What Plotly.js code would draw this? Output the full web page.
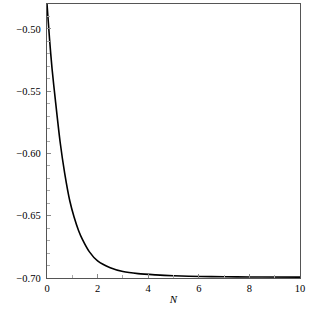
<!DOCTYPE html>
<html>
<head>
<meta charset="utf-8">
<script src="https://cdn.plot.ly/plotly-3.0.1.min.js"></script>
<style>html,body{margin:0;padding:0;background:#fff;}#chart{width:309px;height:309px;}</style>
</head>
<body>
<div id="chart"></div>
<script>
var N = [0, 0.1, 0.2, 0.33, 0.52, 0.7, 0.9, 1.07, 1.25, 1.4, 1.67, 2.0, 2.5, 3.0, 3.6, 4.3, 5.0, 5.6, 6.5, 7.5, 8.5, 10];
var values = [-0.480, -0.508, -0.532, -0.557, -0.591, -0.616, -0.638, -0.651, -0.662, -0.669, -0.6788, -0.6863, -0.6918, -0.6948, -0.6965, -0.6975, -0.6982, -0.6986, -0.6989, -0.6991, -0.6992, -0.6993];
var xTicks = [0, 2, 4, 6, 8, 10];
var yTicks = [-0.70, -0.65, -0.60, -0.55, -0.50];

var trace = {
  x: N, y: values, type: 'scatter', mode: 'lines',
  line: {color: '#000', width: 1.6, shape: 'spline', smoothing: 0.8},
  hoverinfo: 'skip'
};
var fontFam = '"Liberation Serif", "Times New Roman", serif';
var layout = {
  width: 309, height: 309,
  margin: {l: 47, r: 9, t: 4, b: 31},
  paper_bgcolor: '#fff', plot_bgcolor: '#fff',
  showlegend: false,
  font: {family: fontFam, size: 10, color: '#000'},
  xaxis: {
    range: [0, 10], tickvals: xTicks, ticktext: xTicks.map(String),
    ticks: 'inside', ticklen: 4, tickcolor: '#888', tickwidth: 1,
    minor: {ticks: 'inside', dtick: 1, ticklen: 3, tickcolor: '#aaa'},
    showgrid: false, zeroline: false,
    showline: true, mirror: true, linecolor: '#555', linewidth: 1.2,
    title: {text: '<i>N</i>', font: {family: fontFam, size: 11}, standoff: 2},
    tickfont: {family: fontFam, size: 10.5}
  },
  yaxis: {
    range: [-0.70, -0.48], tickvals: yTicks,
    ticktext: yTicks.map(function(v){return '\u2212' + Math.abs(v).toFixed(2);}),
    ticks: 'inside', ticklen: 4, tickcolor: '#888', tickwidth: 1,
    minor: {ticks: 'inside', dtick: 0.01, ticklen: 3, tickcolor: '#aaa'},
    showgrid: false, zeroline: false,
    showline: true, mirror: true, linecolor: '#555', linewidth: 1.2,
    tickfont: {family: fontFam, size: 10.5},
    ticklabelstandoff: 3
  }
};
Plotly.newPlot('chart', [trace], layout, {displayModeBar: false, staticPlot: true});
</script>
</body>
</html>
